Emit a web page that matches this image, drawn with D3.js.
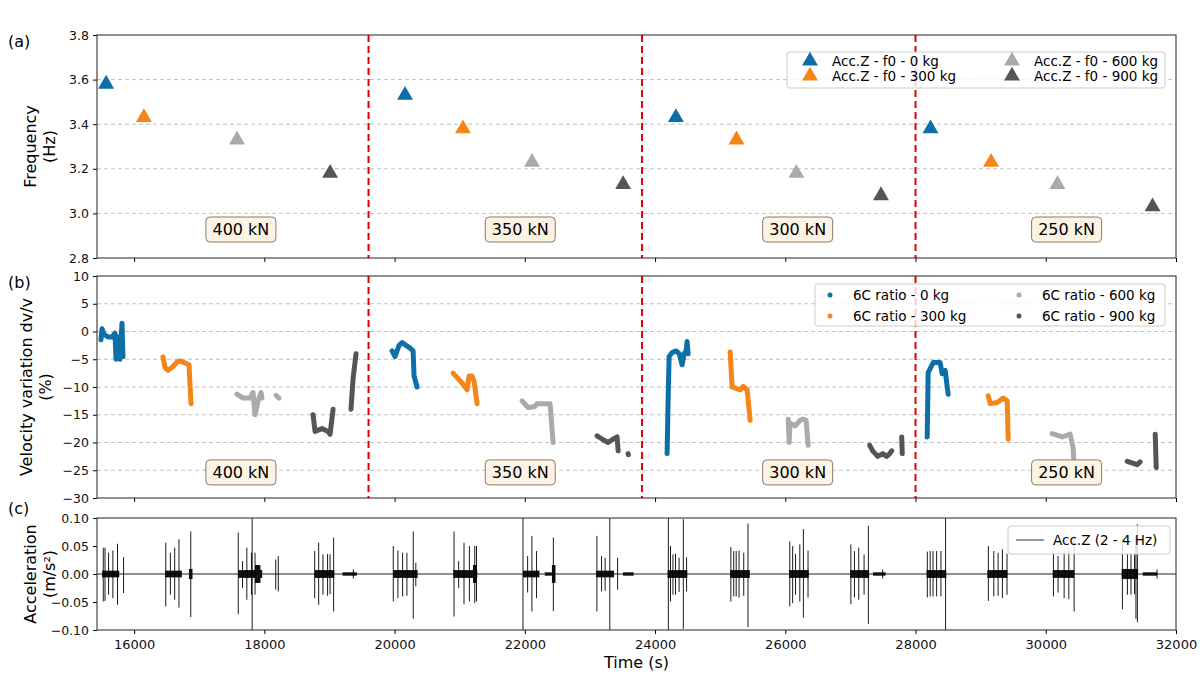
<!DOCTYPE html>
<html><head><meta charset="utf-8">
<script src="https://cdn.jsdelivr.net/npm/d3@7"></script>
<style>body{margin:0;background:#fff}text{font-family:"DejaVu Sans",sans-serif}</style>
</head><body><svg id="c" width="1200" height="686"></svg>
<script>
// ---------- data ----------
const xDomain = [15430, 32000];
const xTicks = [16000,18000,20000,22000,24000,26000,28000,30000,32000];
const loadChanges = [19600, 23800, 28000];
const loadLabels = ["400 kN","350 kN","300 kN","250 kN"];
const loadLabelT = [17640, 21930, 26190, 30320];
const massNames = ["0 kg","300 kg","600 kg","900 kg"];
const colors = ["#0c6fa8","#f58518","#aaaaaa","#555555"];

const freqT = [[15570,20160,24320,28230],[16150,21050,25250,29160],[17580,22110,26170,30180],[19010,23510,27470,31640]];
const freqV = [[3.58,3.53,3.43,3.38],[3.43,3.38,3.33,3.23],[3.33,3.23,3.18,3.13],[3.18,3.13,3.08,3.03]];

const dvv0 = [
 [[15491,-1.5],[15507,0.5],[15538,-0.5],[15599,-1],[15660,-1],[15706,-0.3],[15722,-5],[15753,-1],[15783,-5],[15814,1.5],[15829,-4.5]],
 [[19961,-3.5],[20007,-4.5],[20069,-2.5],[20115,-2],[20176,-2.5],[20238,-3],[20284,-3.5],[20299,-8],[20345,-10]],
 [[24185,-22],[24201,-12],[24216,-4.5],[24262,-3.8],[24323,-3.5],[24370,-4],[24416,-6],[24446,-4],[24477,-3.5],[24492,-1.8],[24508,-4]],
 [[28179,-19],[28194,-7.4],[28271,-5.6],[28378,-5.6],[28409,-7.6],[28455,-7],[28501,-11.3]]];
const dvv300 = [
 [[16444,-4.6],[16474,-6.5],[16521,-7],[16597,-6.3],[16659,-5.5],[16705,-5.3],[16843,-6],[16874,-13]],
 [[20898,-7.5],[20975,-8.5],[21052,-9.5],[21113,-10.5],[21144,-8],[21190,-8],[21221,-9],[21267,-13]],
 [[25153,-3.7],[25184,-10],[25306,-10.5],[25353,-9.9],[25414,-10.5],[25460,-16]],
 [[29116,-11.6],[29146,-13],[29254,-12.8],[29346,-12],[29408,-12.5],[29423,-19.4]]];
const dvv600 = [
 [[17580,-11.3],[17673,-12],[17780,-12],[17826,-11],[17857,-15],[17903,-12.5],[17949,-11],[17964,-12]],
 [[18179,-11.5],[18226,-12]],
 [[21958,-12.5],[22050,-13.7],[22158,-13.5],[22188,-13],[22388,-13],[22434,-20]],
 [[26044,-15.8],[26059,-20],[26074,-16.5],[26151,-17],[26228,-16],[26274,-15.8],[26320,-16],[26351,-20.5]],
 [[30099,-18.4],[30252,-19],[30375,-18.5],[30421,-21],[30429,-23]]];
const dvv900 = [
 [[18748,-15],[18779,-18],[18886,-17.5],[18978,-18],[19009,-18.5],[19055,-14]],
 [[19331,-14],[19362,-8.5],[19408,-4]],
 [[23110,-18.8],[23202,-19.5],[23279,-20],[23340,-19.5],[23417,-19],[23433,-21.5]],
 [[23586,-22],[23590,-22.2]],
 [[27296,-20.5],[27342,-21.5],[27419,-22.5],[27496,-22],[27557,-22.5],[27603,-22],[27634,-21.5]],
 [[27788,-19],[27796,-22]],
 [[31251,-23.4],[31404,-24],[31450,-23.5]],
 [[31681,-18.5],[31696,-24.5]]];
const dvvSeries = [dvv0, dvv300, dvv600, dvv900];

// acceleration: spikes [time, up, down] (m/s2)
const accSpikes = [
 [15526,.047,.049],[15553,.047,.048],[15608,.038,.037],[15674,.042,.043],[15745,.054,.055],[15838,.030,.034],
 [16486,.056,.058],[16557,.038,.037],[16623,.047,.046],[16689,.062,.060],[16870,.076,.077],
 [17599,.074,.072],[17665,.023,.025],[17731,.047,.046],[17802,.038,.037],[17813,.2,.2],[17857,.038,.037],[18175,.026,.028],[18214,.032,.031],
 [18773,.041,.043],[18834,.056,.055],[18900,.035,.037],[18971,.036,.039],[19009,.035,.036],[19064,.065,.067],[19366,.008,.008],
 [19980,.050,.049],[20051,.042,.043],[20123,.038,.040],[20189,.038,.039],[20287,.076,.080],[20326,.020,.022],
 [20913,.076,.076],[20984,.023,.025],[21066,.056,.054],[21149,.050,.049],[21231,.050,.052],[21258,.050,.049],
 [21972,.2,.2],[22043,.032,.033],[22109,.068,.067],[22180,.041,.043],[22438,.065,.066],
 [23107,.068,.067],[23178,.032,.031],[23233,.029,.030],[23305,.2,.2],[23425,.029,.028],
 [24204,.2,.2],[24237,.050,.049],[24275,.035,.037],[24314,.036,.037],[24369,.029,.032],[24434,.098,.098],[24484,.030,.031],
 [25164,.048,.049],[25208,.041,.040],[25246,.041,.040],[25290,.042,.042],[25362,.038,.039],[25427,.090,.095],
 [26069,.058,.058],[26113,.050,.052],[26157,.036,.037],[26223,.053,.049],[26278,.080,.078],[26349,.042,.042],
 [27007,.053,.054],[27062,.041,.042],[27128,.047,.046],[27210,.035,.037],[27276,.086,.089],[27496,.008,.008],
 [28181,.040,.042],[28225,.041,.040],[28269,.041,.040],[28324,.041,.040],[28390,.041,.040],[28461,.2,.2],
 [29119,.050,.048],[29202,.041,.040],[29268,.038,.039],[29334,.044,.043],[29405,.036,.037],
 [30118,.041,.040],[30189,.032,.033],[30282,.041,.043],[30354,.044,.045],[30436,.065,.067],
 [31177,.062,.063],[31254,.036,.037],[31309,.036,.037],[31363,.035,.036],[31385,.068,.080],[31407,.089,.086],[31709,.008,.008]];
// dense low-amplitude bands [t0, t1, amp]
const accBands = [
 [15509,15772,.006],[16475,16733,.006],[16842,16897,.009],[17599,17967,.007],[17857,17940,.016],
 [18773,19075,.007],[19201,19421,.003],[19980,20354,.007],[20902,21269,.007],[21204,21258,.016],
 [21972,22224,.006],[22306,22416,.003],[22416,22471,.016],[23096,23370,.006],[23508,23672,.003],
 [24193,24495,.007],[25153,25455,.007],[26058,26360,.007],[26996,27287,.007],[27348,27540,.003],
 [28170,28472,.007],[29103,29410,.007],[30107,30436,.007],[31166,31418,.009],[31489,31709,.003]];

const aTicks=[2.8,3.0,3.2,3.4,3.6,3.8], bTicks=[10,5,0,-5,-10,-15,-20,-25,-30], cTicks=[0.10,0.05,0,-0.05,-0.10];

// ---------- drawing ----------
const svg=d3.select("#c");
const L=97,R=1176;
const x=d3.scaleLinear().domain(xDomain).range([L,R]);
const panels=[{top:35,bot:258,dom:[2.8,3.8],ticks:aTicks,fmt:d3.format(".1f"),lab:["Frequency","(Hz)"],tag:"(a)"},
 {top:276,bot:498,dom:[-30,10],ticks:bTicks,fmt:d=>d<0?"\u2212"+(-d):d,lab:["Velocity variation dv/v","(%)"],tag:"(b)"},
 {top:518,bot:630,dom:[-0.1,0.1],ticks:cTicks,fmt:d=>(d<0?"\u2212":"")+d3.format(".2f")(Math.abs(d)),lab:["Acceleration","(m/s\u00b2)"],tag:"(c)"}];
panels.forEach((p,i)=>{
  p.y=d3.scaleLinear().domain(p.dom).range([p.bot,p.top]);
  const g=svg.append("g");
  svg.append("defs").append("clipPath").attr("id","cl"+i).append("rect").attr("x",L).attr("y",p.top).attr("width",R-L).attr("height",p.bot-p.top);
  p.g=svg.append("g").attr("clip-path",`url(#cl${i})`);
  if(i<2){
    p.ticks.slice(1,-1).forEach(t=>g.append("line").attr("x1",L).attr("x2",R).attr("y1",p.y(t)).attr("y2",p.y(t)).attr("stroke","#b0b0b0").attr("stroke-dasharray","4,3").attr("stroke-width",0.8));
  }
  const ay=svg.append("g").attr("transform",`translate(${L},0)`).call(d3.axisLeft(p.y).tickValues(p.ticks).tickFormat(p.fmt).tickSize(4).tickPadding(4));
  ay.select(".domain").remove();
  ay.selectAll("text").attr("font-size",12.5).attr("fill","#111");
  const ax=svg.append("g").attr("transform",`translate(0,${p.bot})`).call(d3.axisBottom(x).tickValues(xTicks).tickSize(4).tickFormat(i==2?d3.format("d"):""));
  ax.select(".domain").remove();
  ax.selectAll("text").attr("font-size",13).attr("fill","#111").attr("dy","0.9em");
  p.frame=()=>svg.append("rect").attr("x",L).attr("y",p.top).attr("width",R-L).attr("height",p.bot-p.top).attr("fill","none").attr("stroke","#222").attr("stroke-width",1);
  const yl=svg.append("text").attr("transform",`translate(${i==1?34:38},${(p.top+p.bot)/2}) rotate(-90)`).attr("text-anchor","middle").attr("font-size",16);
  yl.append("tspan").attr("x",0).attr("dy","-0.1em").text(p.lab[0]);
  yl.append("tspan").attr("x",0).attr("dy","1.15em").text(p.lab[1]);
  svg.append("text").attr("x",8).attr("y",i==2?p.top-4:p.top+12).attr("font-size",16).text(p.tag);
});
const [pa,pb,pc]=panels;

// panel a triangles
const tri=d3.symbol().type(d3.symbolTriangle).size(110);
freqT.forEach((ts,k)=>ts.forEach((t,j)=>pa.g.append("path").attr("d",tri).attr("transform",`translate(${x(t)},${pa.y(freqV[k][j])})`).attr("fill",colors[k])));
// panel b dv/v
const line=d3.line().x(d=>x(d[0])).y(d=>pb.y(d[1]));
dvvSeries.forEach((segs,k)=>segs.forEach(s=>{
  pb.g.append("path").attr("d",line(s)).attr("fill","none").attr("stroke",colors[k]).attr("stroke-width",5).attr("stroke-linecap","round").attr("stroke-linejoin","round");
}));
// panel c
pc.g.append("line").attr("x1",L).attr("x2",R).attr("y1",pc.y(0)).attr("y2",pc.y(0)).attr("stroke","#222").attr("stroke-width",1.1);
accBands.forEach(b=>pc.g.append("rect").attr("x",x(b[0])).attr("width",x(b[1])-x(b[0])).attr("y",pc.y(b[2])).attr("height",pc.y(-b[2])-pc.y(b[2])).attr("fill","#111"));
accSpikes.forEach(s=>pc.g.append("line").attr("x1",x(s[0])).attr("x2",x(s[0])).attr("y1",pc.y(s[1])).attr("y2",pc.y(-s[2])).attr("stroke","#000").attr("stroke-width",0.9));

// load-change lines
[pa,pb].forEach(p=>loadChanges.forEach(t=>p.g.append("line").attr("x1",x(t)).attr("x2",x(t)).attr("y1",p.top).attr("y2",p.bot).attr("stroke","#e00000").attr("stroke-width",2).attr("stroke-dasharray","7,4")));
// load labels
[[pa,2.93],[pb,-25.3]].forEach(([p,v])=>loadLabels.forEach((lb,i)=>{
  const cx=x(loadLabelT[i]),cy=p.y(v);
  p.g.append("rect").attr("x",cx-35).attr("y",cy-12).attr("width",70).attr("height",25).attr("rx",4).attr("fill","#fdf3e4").attr("stroke","#8a7a6a").attr("stroke-width",1);
  p.g.append("text").attr("x",cx).attr("y",cy+6).attr("text-anchor","middle").attr("font-size",16).text(lb);
}));
panels.forEach(p=>p.frame());

// legends
function legendBox(x0,y0,w,h){svg.append("rect").attr("x",x0).attr("y",y0).attr("width",w).attr("height",h).attr("rx",3).attr("fill","rgba(255,255,255,0.8)").attr("stroke","#ccc");}
legendBox(787,52,378,36);
massNames.forEach((m,k)=>{const cx=k<2?810:1012, cy=k%2?76:61;
  svg.append("path").attr("d",tri).attr("transform",`translate(${cx},${cy})`).attr("fill",colors[k]);
  svg.append("text").attr("x",cx+22).attr("y",cy+5).attr("font-size",13.5).text("Acc.Z - f0 - "+m);});
legendBox(815,284,350,42);
massNames.forEach((m,k)=>{const cx=k<2?830:1019, cy=k%2?316:295;
  svg.append("circle").attr("cx",cx).attr("cy",cy).attr("r",2.5).attr("fill",colors[k]);
  svg.append("text").attr("x",cx+23).attr("y",cy+5).attr("font-size",13.5).text("6C ratio - "+m);});
legendBox(1008,526,162,28);
svg.append("line").attr("x1",1016).attr("x2",1044).attr("y1",540).attr("y2",540).attr("stroke","#333").attr("stroke-width",1);
svg.append("text").attr("x",1053).attr("y",545).attr("font-size",13.5).text("Acc.Z (2 - 4 Hz)");
svg.append("text").attr("x",(L+R)/2).attr("y",668).attr("text-anchor","middle").attr("font-size",16).text("Time (s)");
</script></body></html>
